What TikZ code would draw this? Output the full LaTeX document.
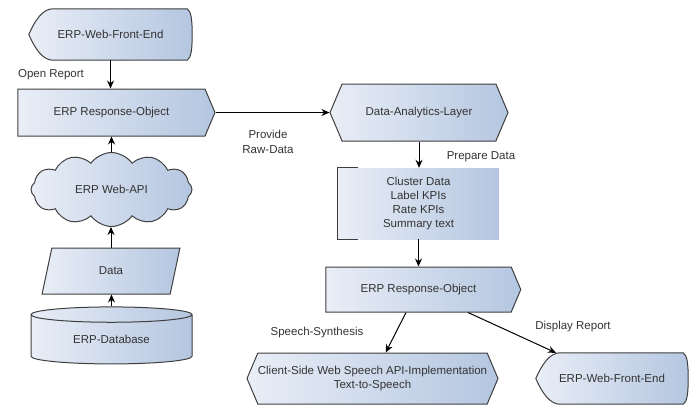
\documentclass[tikz,border=0pt]{standalone}
\usepackage{fontspec}
\setmainfont{Liberation Sans}
\usetikzlibrary{shapes.geometric,shapes.symbols,arrows.meta,calc,positioning,backgrounds}
\definecolor{shadeL}{HTML}{E9EEF7}
\definecolor{shadeR}{HTML}{B4C6E0}
\definecolor{edgegray}{HTML}{3F3F3F}
\definecolor{txtgray}{HTML}{333333}
\tikzset{
    every node/.style={font=\fontsize{11.5}{14.3}\selectfont, text=txtgray},
    box/.style={draw=edgegray, line width=1pt, left color=shadeL, right color=shadeR, align=center, inner sep=0pt},
    flow/.style={-{Stealth[length=8pt,width=7pt]}, line width=1pt, black},
    respobj/.style={box, signal, signal to=east, signal pointer angle=134},
    layer/.style={box, signal, signal to=west and east, signal pointer angle=134},
    webapi/.style={box, cloud, cloud puffs=12, cloud puff arc=110, cloud ignores aspect},
    datain/.style={box, trapezium, trapezium stretches=true, trapezium left angle=76, trapezium right angle=104},
    dbase/.style={box, cylinder, shape border rotate=90, aspect=0.2},
    note/.style={left color=shadeL, right color=shadeR, align=center, inner sep=0pt},
    frontend/.style={align=center, inner sep=0pt},
    lbl/.style={align=center, inner sep=0pt}
}
% outline of a display shape, drawn behind the named node
\newcommand\frontoutline[1]{%
  \begin{scope}[on background layer]
    \path[box] (#1.west)
      .. controls ($(#1.west)+(6,-14)$) and ($(#1.north west)+(14,0)$) .. ($(#1.north west)+(24,0)$)
      -- ($(#1.north east)+(-5,0)$)
      .. controls ($(#1.north east)+(-1,2)$) and ($(#1.east)+(0,-14)$) .. (#1.east)
      .. controls ($(#1.east)+(0,14)$) and ($(#1.south east)+(-1,-2)$) .. ($(#1.south east)+(-5,0)$)
      -- ($(#1.south west)+(24,0)$)
      .. controls ($(#1.south west)+(14,0)$) and ($(#1.west)+(6,14)$) .. (#1.west) -- cycle;
  \end{scope}}
\begin{document}
\begin{tikzpicture}[x=1pt, y=-1pt]
    \useasboundingbox (0,0) rectangle (690,408);
    % ERP side
    \node[frontend, minimum width=163pt, minimum height=51pt] (front) at (110.5,34.5) {ERP-Web-Front-End};
    \frontoutline{front}
    \node[respobj, minimum width=197pt, minimum height=47pt] (response) at (111.5,112.5) {ERP Response-Object};
    \node[webapi, minimum width=161pt, minimum height=74pt] (api) at (111.5,189.5) {ERP Web-API};
    \node[datain, minimum width=138pt, minimum height=46pt] (data) at (111,271) {Data};
    \node[dbase, minimum width=161pt, minimum height=57pt] (db) at (111.5,339.5) {ERP-Database};
    % analytics side
    \node[layer, minimum width=178pt, minimum height=57pt] (analytics) at (419,112.5) {Data-Analytics-Layer};
    \node[note, minimum width=161pt, minimum height=71pt] (steps) at (418.5,203.5) {Cluster Data\\Label KPIs\\Rate KPIs\\Summary text};
    \draw[edgegray, line width=1pt] ($(steps.north west)+(20,0)$) -| (steps.south west) -- ++(20,0);
    \node[respobj, minimum width=195pt, minimum height=45pt] (response2) at (418.5,289.5) {ERP Response-Object};
    \node[layer, minimum width=251pt, minimum height=51pt] (tts) at (372.5,378.5) {Client-Side Web Speech API-Implementation\\Text-to-Speech};
    \node[frontend, minimum width=152pt, minimum height=51pt] (front2) at (612,378.5) {ERP-Web-Front-End};
    \frontoutline{front2}
    % connectors
    \draw[flow] (front.south) -- (front.south |- response.north);
    \draw[flow] (api.north) -- (api.north |- response.south);
    \draw[flow] (data.north) -- (data.north |- api.south);
    \draw[flow] (db.north) -- (db.north |- data.south);
    \draw[flow] (response.east) -- (analytics.west);
    \draw[flow] (analytics.south) -- (analytics.south |- steps.north);
    \draw[flow] (steps.south) -- (steps.south |- response2.north);
    \draw[flow] ($(response2.south)+(-12.5,0)$) -- (tts);
    \draw[flow] ($(response2.south)+(49.5,0)$) -- (front2);
    % labels
    \node[lbl] (openlbl) at (51,75) {Open Report};
    \node[lbl] (rawlbl) at (268,142) {Provide\\Raw-Data};
    \node[lbl] (preplbl) at (481,157) {Prepare Data};
    \node[lbl] (speechlbl) at (317,333) {Speech-Synthesis};
    \node[lbl] (displbl) at (573,327) {Display Report};
\end{tikzpicture}
\end{document}
